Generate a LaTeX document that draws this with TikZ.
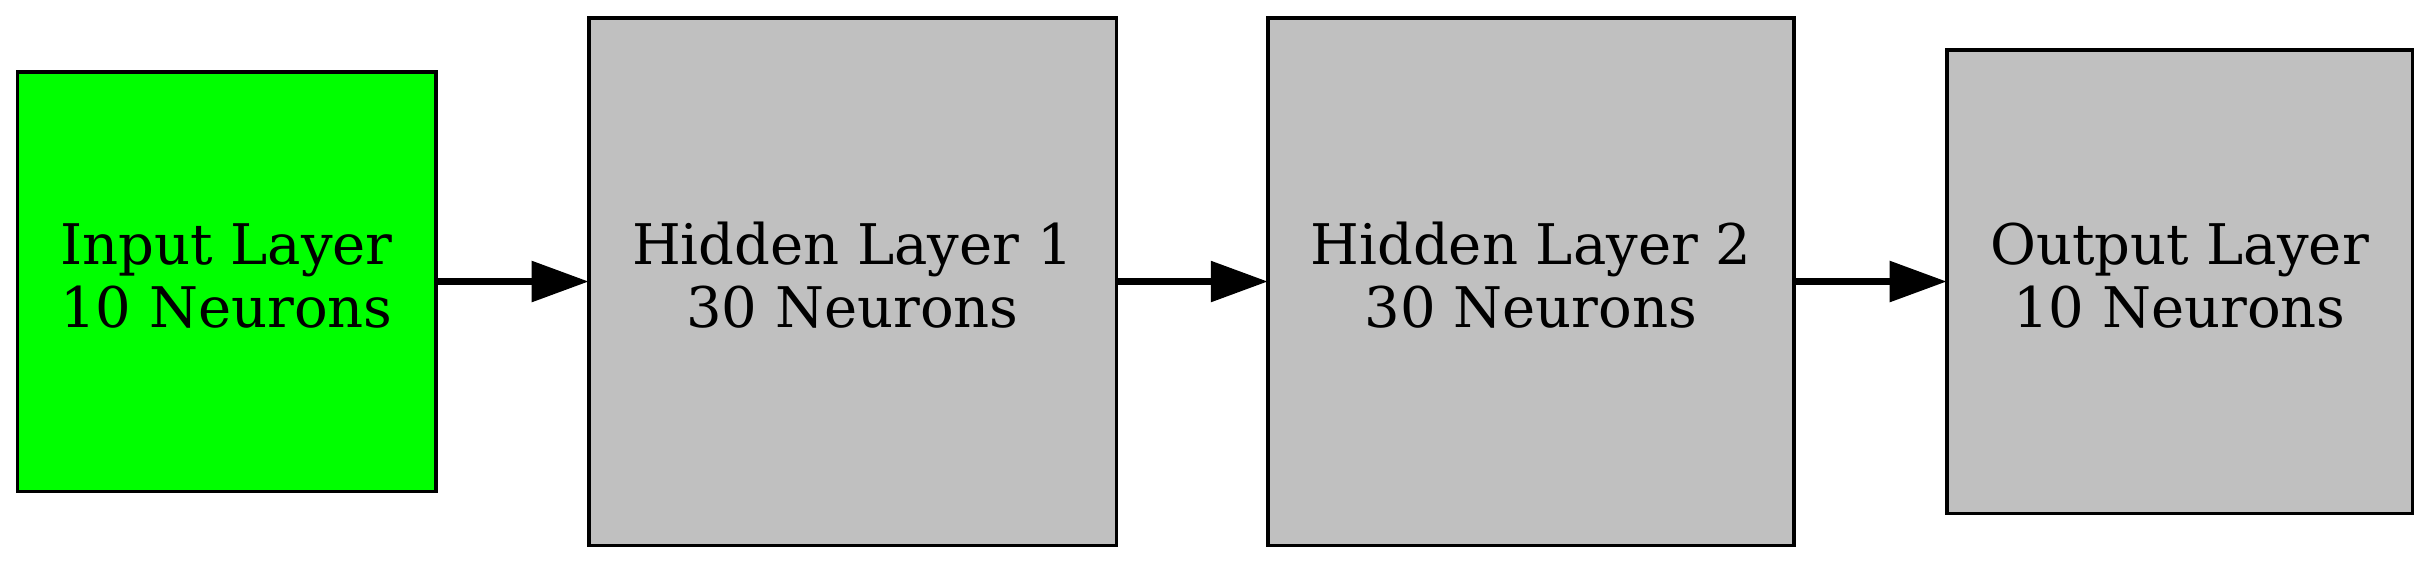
\documentclass[tikz,border=0pt]{standalone}
\usepackage{fontspec}
\setmainfont{DejaVu Serif}
\usetikzlibrary{arrows.meta}
\definecolor{layergreen}{HTML}{00FF00}
\definecolor{layergray}{HTML}{C0C0C0}
\begin{document}
\begin{tikzpicture}[x=0.25pt,y=-0.25pt,
  layer/.style={draw=black, line width=0.9pt, inner sep=0pt, outer sep=0pt},
  lbl/.style={inner sep=0pt, align=center, font=\fontsize{14}{15.75}\selectfont},
  arr/.style={line width=1.75pt, -{Triangle[length=14.25pt,width=9.9pt]}}]
\useasboundingbox (0,0) rectangle (2429,562);
\node[layer, fill=layergreen, minimum width=104.6pt, minimum height=104.9pt] (in) at (226.5,281.5) {};
\node[layer, fill=layergray, minimum width=131.9pt, minimum height=131.9pt] (h1) at (852.5,281.5) {};
\node[layer, fill=layergray, minimum width=131.6pt, minimum height=131.9pt] (h2) at (1531,281.5) {};
\node[layer, fill=layergray, minimum width=116.4pt, minimum height=115.9pt] (out) at (2179.5,281.5) {};
\node[lbl] (inT) at ([yshift=1.5pt]in.center) {Input Layer\\10 Neurons};
\node[lbl] (h1T) at ([yshift=1.5pt]h1.center) {Hidden Layer 1\\30 Neurons};
\node[lbl] (h2T) at ([yshift=1.5pt]h2.center) {Hidden Layer 2\\30 Neurons};
\node[lbl] (outT) at ([yshift=1.5pt]out.center) {Output Layer\\10 Neurons};
\draw[arr] (in.east) -- (h1.west);
\draw[arr] (h1.east) -- (h2.west);
\draw[arr] (h2.east) -- (out.west);
\end{tikzpicture}
\end{document}
